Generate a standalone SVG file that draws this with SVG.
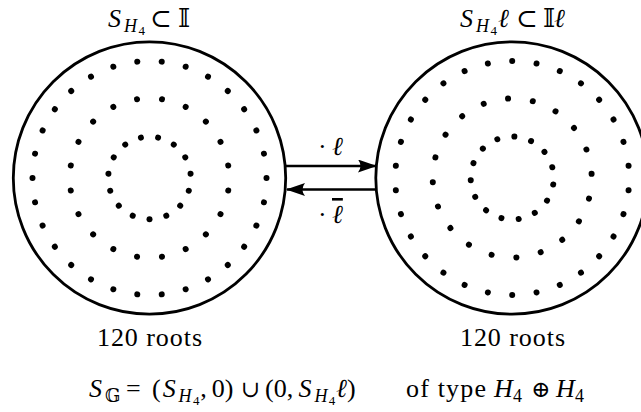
<svg xmlns="http://www.w3.org/2000/svg" xmlns:xlink="http://www.w3.org/1999/xlink" width="641" height="412" viewBox="0 0 641 412">
<style>
.t{font-family:"Liberation Serif",serif;font-size:26px;fill:#000}
.i{font-style:italic}
.s{font-size:18px}
.ss{font-size:13px}
.m{font-family:"DejaVu Serif","DejaVu Sans",serif;font-style:normal}
.op{font-size:23px}
.ol{text-decoration:overline}
.ring{fill:none;stroke:#000;stroke-width:2.8}
.dot{fill:#000}
.arr{stroke:#000;stroke-width:2.6;fill:none}
.head{fill:#000}
</style>
<defs>
<circle id="dL1" class="dot" cx="117" cy="0" r="3"/>
<circle id="dL2" class="dot" cx="79.7" cy="0" r="3"/>
<circle id="dL3" class="dot" cx="41.3" cy="0" r="3"/>
<circle id="dR1" class="dot" cx="117" cy="0" r="3"/>
<circle id="dR2" class="dot" cx="79.5" cy="0" r="3"/>
<circle id="dR3" class="dot" cx="41.5" cy="0" r="3"/>
<marker id="ah" viewBox="0 0 19 13" refX="18" refY="6.5" markerWidth="19" markerHeight="13" markerUnits="userSpaceOnUse" orient="auto">
<path class="head" d="M0,0 Q5,6.5 0,13 L19,6.5 Z"/>
</marker>
</defs>

<g id="left-set">
<circle class="ring" cx="149.5" cy="178" r="136.2"/>
<g transform="translate(149.5,178)">
<use href="#dL1" transform="rotate(0)"/><use href="#dL1" transform="rotate(12)"/><use href="#dL1" transform="rotate(24)"/><use href="#dL1" transform="rotate(36)"/><use href="#dL1" transform="rotate(48)"/><use href="#dL1" transform="rotate(60)"/><use href="#dL1" transform="rotate(72)"/><use href="#dL1" transform="rotate(84)"/><use href="#dL1" transform="rotate(96)"/><use href="#dL1" transform="rotate(108)"/><use href="#dL1" transform="rotate(120)"/><use href="#dL1" transform="rotate(132)"/><use href="#dL1" transform="rotate(144)"/><use href="#dL1" transform="rotate(156)"/><use href="#dL1" transform="rotate(168)"/><use href="#dL1" transform="rotate(180)"/><use href="#dL1" transform="rotate(192)"/><use href="#dL1" transform="rotate(204)"/><use href="#dL1" transform="rotate(216)"/><use href="#dL1" transform="rotate(228)"/><use href="#dL1" transform="rotate(240)"/><use href="#dL1" transform="rotate(252)"/><use href="#dL1" transform="rotate(264)"/><use href="#dL1" transform="rotate(276)"/><use href="#dL1" transform="rotate(288)"/><use href="#dL1" transform="rotate(300)"/><use href="#dL1" transform="rotate(312)"/><use href="#dL1" transform="rotate(324)"/><use href="#dL1" transform="rotate(336)"/><use href="#dL1" transform="rotate(348)"/>
<use href="#dL2" transform="rotate(9)"/><use href="#dL2" transform="rotate(27)"/><use href="#dL2" transform="rotate(45)"/><use href="#dL2" transform="rotate(63)"/><use href="#dL2" transform="rotate(81)"/><use href="#dL2" transform="rotate(99)"/><use href="#dL2" transform="rotate(117)"/><use href="#dL2" transform="rotate(135)"/><use href="#dL2" transform="rotate(153)"/><use href="#dL2" transform="rotate(171)"/><use href="#dL2" transform="rotate(189)"/><use href="#dL2" transform="rotate(207)"/><use href="#dL2" transform="rotate(225)"/><use href="#dL2" transform="rotate(243)"/><use href="#dL2" transform="rotate(261)"/><use href="#dL2" transform="rotate(279)"/><use href="#dL2" transform="rotate(297)"/><use href="#dL2" transform="rotate(315)"/><use href="#dL2" transform="rotate(333)"/><use href="#dL2" transform="rotate(351)"/>
<use href="#dL3" transform="rotate(18)"/><use href="#dL3" transform="rotate(42)"/><use href="#dL3" transform="rotate(66)"/><use href="#dL3" transform="rotate(90)"/><use href="#dL3" transform="rotate(114)"/><use href="#dL3" transform="rotate(138)"/><use href="#dL3" transform="rotate(162)"/><use href="#dL3" transform="rotate(186)"/><use href="#dL3" transform="rotate(210)"/><use href="#dL3" transform="rotate(234)"/><use href="#dL3" transform="rotate(258)"/><use href="#dL3" transform="rotate(282)"/><use href="#dL3" transform="rotate(306)"/><use href="#dL3" transform="rotate(330)"/><use href="#dL3" transform="rotate(354)"/>
</g>
<text class="t"><tspan class="i" x="108" y="27">S</tspan><tspan class="i s" x="124" y="32">H</tspan><tspan class="ss" x="138.5" y="35">4</tspan><tspan class="m" x="150" y="27">⊂</tspan><tspan class="m" x="178" y="27">𝕀</tspan></text>
<text class="t" x="97" y="346" textLength="105" lengthAdjust="spacing">120 roots</text>
</g>

<g id="right-set">
<circle class="ring" cx="512" cy="178" r="136.2"/>
<g transform="translate(512.2,178)">
<use href="#dR1" transform="rotate(6)"/><use href="#dR1" transform="rotate(18)"/><use href="#dR1" transform="rotate(30)"/><use href="#dR1" transform="rotate(42)"/><use href="#dR1" transform="rotate(54)"/><use href="#dR1" transform="rotate(66)"/><use href="#dR1" transform="rotate(78)"/><use href="#dR1" transform="rotate(90)"/><use href="#dR1" transform="rotate(102)"/><use href="#dR1" transform="rotate(114)"/><use href="#dR1" transform="rotate(126)"/><use href="#dR1" transform="rotate(138)"/><use href="#dR1" transform="rotate(150)"/><use href="#dR1" transform="rotate(162)"/><use href="#dR1" transform="rotate(174)"/><use href="#dR1" transform="rotate(186)"/><use href="#dR1" transform="rotate(198)"/><use href="#dR1" transform="rotate(210)"/><use href="#dR1" transform="rotate(222)"/><use href="#dR1" transform="rotate(234)"/><use href="#dR1" transform="rotate(246)"/><use href="#dR1" transform="rotate(258)"/><use href="#dR1" transform="rotate(270)"/><use href="#dR1" transform="rotate(282)"/><use href="#dR1" transform="rotate(294)"/><use href="#dR1" transform="rotate(306)"/><use href="#dR1" transform="rotate(318)"/><use href="#dR1" transform="rotate(330)"/><use href="#dR1" transform="rotate(342)"/><use href="#dR1" transform="rotate(354)"/>
<use href="#dR2" transform="rotate(-3)"/><use href="#dR2" transform="rotate(15)"/><use href="#dR2" transform="rotate(33)"/><use href="#dR2" transform="rotate(51)"/><use href="#dR2" transform="rotate(69)"/><use href="#dR2" transform="rotate(87)"/><use href="#dR2" transform="rotate(105)"/><use href="#dR2" transform="rotate(123)"/><use href="#dR2" transform="rotate(141)"/><use href="#dR2" transform="rotate(159)"/><use href="#dR2" transform="rotate(177)"/><use href="#dR2" transform="rotate(195)"/><use href="#dR2" transform="rotate(213)"/><use href="#dR2" transform="rotate(231)"/><use href="#dR2" transform="rotate(249)"/><use href="#dR2" transform="rotate(267)"/><use href="#dR2" transform="rotate(285)"/><use href="#dR2" transform="rotate(303)"/><use href="#dR2" transform="rotate(321)"/><use href="#dR2" transform="rotate(339)"/>
<use href="#dR3" transform="rotate(9)"/><use href="#dR3" transform="rotate(33)"/><use href="#dR3" transform="rotate(57)"/><use href="#dR3" transform="rotate(81)"/><use href="#dR3" transform="rotate(105)"/><use href="#dR3" transform="rotate(129)"/><use href="#dR3" transform="rotate(153)"/><use href="#dR3" transform="rotate(177)"/><use href="#dR3" transform="rotate(201)"/><use href="#dR3" transform="rotate(225)"/><use href="#dR3" transform="rotate(249)"/><use href="#dR3" transform="rotate(273)"/><use href="#dR3" transform="rotate(297)"/><use href="#dR3" transform="rotate(321)"/><use href="#dR3" transform="rotate(345)"/>
</g>
<text class="t"><tspan class="i" x="460" y="27">S</tspan><tspan class="i s" x="476" y="32">H</tspan><tspan class="ss" x="490.5" y="35">4</tspan><tspan class="i" x="498" y="27">ℓ</tspan><tspan class="m" x="516" y="27">⊂</tspan><tspan class="m" x="543" y="27">𝕀</tspan><tspan class="i" x="554" y="27">ℓ</tspan></text>
<text class="t" x="460" y="346" textLength="105" lengthAdjust="spacing">120 roots</text>
</g>

<g id="connectors">
<line class="arr" x1="286" y1="166" x2="376" y2="166" marker-end="url(#ah)"/>
<line class="arr" x1="376" y1="189.5" x2="287" y2="189.5" marker-end="url(#ah)"/>
<text class="t"><tspan x="318" y="155">·</tspan><tspan class="i" x="332" y="155">ℓ</tspan></text>
<text class="t"><tspan x="318" y="223">·</tspan><tspan class="i ol" x="332" y="223">ℓ</tspan></text>
</g>

<g id="formula">
<text class="t"><tspan class="i" x="89" y="397">S</tspan><tspan class="m s" x="105" y="402">𝔾</tspan><tspan x="126" y="397">=</tspan><tspan x="152" y="397">(</tspan><tspan class="i" x="162.7" y="397">S</tspan><tspan class="i s" x="178.6" y="402">H</tspan><tspan class="ss" x="193" y="405">4</tspan><tspan x="200.3" y="397">,</tspan><tspan x="211.8" y="397">0)</tspan><tspan class="m op" x="241" y="397">∪</tspan><tspan x="265" y="397">(0,</tspan><tspan class="i" x="298.5" y="397">S</tspan><tspan class="i s" x="314.4" y="402">H</tspan><tspan class="ss" x="328.8" y="405">4</tspan><tspan class="i" x="336" y="397">ℓ</tspan><tspan x="347" y="397">)</tspan></text>
<text class="t" x="406" y="397" textLength="80" lengthAdjust="spacing">of type</text>
<text class="t"><tspan class="i" x="494" y="397">H</tspan><tspan class="s" x="513" y="402">4</tspan><tspan class="m op" x="531" y="397">⊕</tspan><tspan class="i" x="556" y="397">H</tspan><tspan class="s" x="575" y="402">4</tspan></text>
</g>
</svg>
